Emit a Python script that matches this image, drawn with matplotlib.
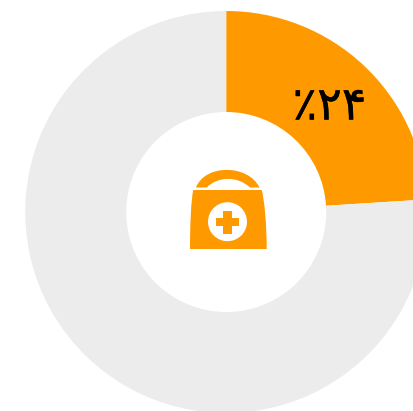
import matplotlib
matplotlib.use("Agg")
import matplotlib.pyplot as plt
import matplotlib.patheffects as pe
from matplotlib.path import Path
from matplotlib.patches import PathPatch, Circle, Rectangle

values = [24, 76]
colors = ["#FF9900", "#ECECEC"]
label = "٪۲۴"

W, H = 414, 411
fig = plt.figure(figsize=(W / 100, H / 100), dpi=100)
ax = fig.add_axes([0, 0, 1, 1])
cx, cy = 226.2, H - 212
ax.pie(values, colors=colors, startangle=90, counterclock=False, center=(cx, cy),
       radius=201, wedgeprops=dict(width=101, linewidth=0), frame=True)
ax.set_xlim(0, W)
ax.set_ylim(0, H)
ax.set_aspect("equal")
ax.axis("off")

def Y(y):
    return H - y

orange = colors[0]
C4 = Path.CURVE4
# icon: bag body
body = Path(
    [(193.3, Y(190)), (261.7, Y(190)),
     (264.5, Y(200)), (266.7, Y(225)), (266.7, Y(249)),
     (190, Y(249)),
     (190, Y(225)), (191, Y(200)), (193.3, Y(190)), (193.3, Y(190))],
    [Path.MOVETO, Path.LINETO, C4, C4, C4, Path.LINETO, C4, C4, C4, Path.CLOSEPOLY])
ax.add_patch(PathPatch(body, fc=orange, lw=0))
# icon: handle
handle = Path(
    [(196, Y(187.5)), (205, Y(164)), (248, Y(164)), (259.5, Y(187.5)),
     (250, Y(187.5)), (238, Y(176)), (218, Y(176)), (206.7, Y(187.5)), (196, Y(187.5))],
    [Path.MOVETO, C4, C4, C4, Path.LINETO, C4, C4, C4, Path.CLOSEPOLY])
ax.add_patch(PathPatch(handle, fc=orange, lw=0))
ax.add_patch(Circle((227.5, Y(221.7)), 19.5, fc="white", lw=0))
ax.add_patch(Rectangle((216, Y(226)), 23, 8.3, fc=orange, lw=0))
ax.add_patch(Rectangle((223.4, Y(233.7)), 8.3, 23, fc=orange, lw=0))

ax.text(329.5, Y(107), label, fontsize=33, color="black", ha="center", va="center",
        family=["DejaVu Sans"],
        path_effects=[pe.withStroke(linewidth=0.3, foreground="black")])

fig.savefig("out.png", dpi=100)
